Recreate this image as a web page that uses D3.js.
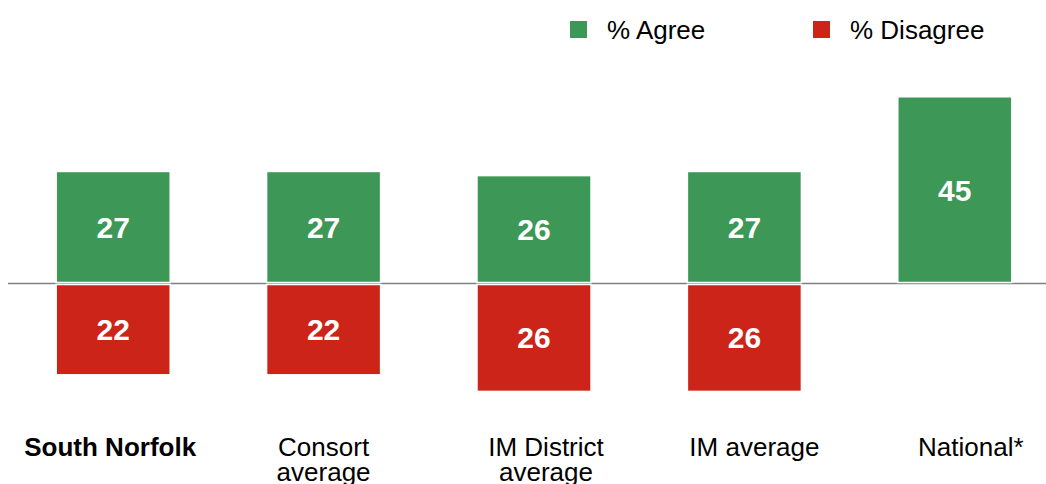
<!DOCTYPE html>
<html>
<head>
<meta charset="utf-8">
<script src="https://cdn.jsdelivr.net/npm/d3@7"></script>
<style>
  body { margin: 0; background: #fff; }
  text { font-family: "Liberation Sans", Arial, sans-serif; }
</style>
</head>
<body>
<svg id="canvas"></svg>
<script>
const categories = ["South Norfolk", "Consort average", "IM District average", "IM average", "National*"];
const labelLines = [["South Norfolk"], ["Consort", "average"], ["IM District", "average"], ["IM average"], ["National*"]];
const agree = [27, 27, 26, 27, 45];
const disagree = [22, 22, 26, 26, null];
const seriesNames = ["% Agree", "% Disagree"];

const width = 1046;
const height = 484;
const green = "#3d9858";
const red = "#cc2418";
// small nudges so the category labels sit like the original
const labelNudge = [-3, 0, 12, 10, 16];

const svg = d3.select("#canvas")
    .attr("width", width)
    .attr("height", height);

const x = d3.scaleBand()
    .domain(categories)
    .range([8, 1060])
    .paddingInner(0.458)
    .paddingOuter(0.229);

const y = d3.scaleLinear()
    .domain([-30, 50])
    .range([408, 76]);

// baseline
svg.append("line")
    .attr("x1", 8)
    .attr("x2", width)
    .attr("y1", y(0))
    .attr("y2", y(0))
    .attr("stroke", "#808080")
    .attr("stroke-width", 1.5);

const data = categories.map((c, i) => ({ cat: c, agree: agree[i], disagree: disagree[i], i: i }));

// agree bars
svg.selectAll("rect.agree")
    .data(data)
    .enter()
    .append("rect")
    .attr("class", "agree")
    .attr("x", d => x(d.cat))
    .attr("y", d => y(d.agree))
    .attr("width", x.bandwidth())
    .attr("height", d => y(0) - y(d.agree) - 1)
    .attr("fill", green)
    .attr("stroke", "#fff")
    .attr("stroke-width", 1.5);

// disagree bars
const dis = data.filter(d => d.disagree != null);
svg.selectAll("rect.disagree")
    .data(dis)
    .enter()
    .append("rect")
    .attr("class", "disagree")
    .attr("x", d => x(d.cat))
    .attr("y", y(0) + 1)
    .attr("width", x.bandwidth())
    .attr("height", d => y(-d.disagree) - y(0) - 1)
    .attr("fill", red)
    .attr("stroke", "#fff")
    .attr("stroke-width", 1.5);

// value labels
svg.selectAll("text.agreeVal")
    .data(data)
    .enter()
    .append("text")
    .attr("x", d => x(d.cat) + x.bandwidth() / 2)
    .attr("y", d => (y(d.agree) + y(0)) / 2)
    .attr("dy", "0.36em")
    .attr("text-anchor", "middle")
    .attr("fill", "#fff")
    .style("font-size", "30px")
    .style("font-weight", "bold")
    .text(d => d.agree);

svg.selectAll("text.disVal")
    .data(dis)
    .enter()
    .append("text")
    .attr("x", d => x(d.cat) + x.bandwidth() / 2)
    .attr("y", d => (y(-d.disagree) + y(0)) / 2)
    .attr("dy", "0.36em")
    .attr("text-anchor", "middle")
    .attr("fill", "#fff")
    .style("font-size", "30px")
    .style("font-weight", "bold")
    .text(d => d.disagree);

// category labels
const cats = svg.selectAll("text.cat")
    .data(data)
    .enter()
    .append("text")
    .attr("class", "cat")
    .attr("text-anchor", "middle")
    .style("font-size", "26px")
    .style("font-weight", d => d.i === 0 ? "bold" : "normal")
    .attr("fill", "#000");

cats.selectAll("tspan")
    .data(d => labelLines[d.i].map(l => ({ line: l, d: d })))
    .enter()
    .append("tspan")
    .attr("x", t => x(t.d.cat) + x.bandwidth() / 2 + labelNudge[t.d.i])
    .attr("y", (t, j) => 456 + j * 25)
    .text(t => t.line);

// legend
const legend = svg.append("g");
const legendX = [570, 813];
const colors = [green, red];
seriesNames.forEach((name, i) => {
    legend.append("rect")
        .attr("x", legendX[i])
        .attr("y", 21)
        .attr("width", 17)
        .attr("height", 17)
        .attr("fill", colors[i]);
    legend.append("text")
        .attr("x", legendX[i] + 37)
        .attr("y", 39)
        .style("font-size", "26px")
        .text(name);
});
</script>
</body>
</html>
